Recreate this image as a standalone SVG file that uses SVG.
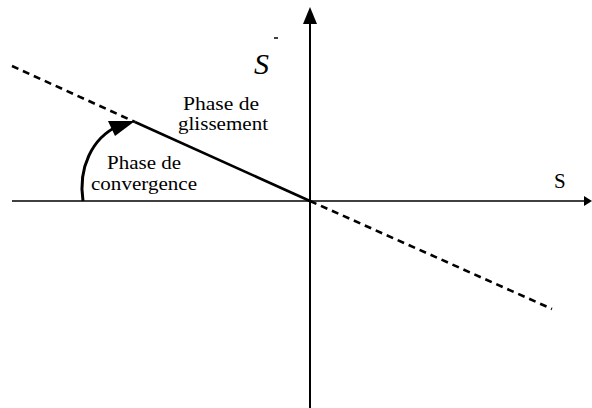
<svg xmlns="http://www.w3.org/2000/svg" width="592" height="408" viewBox="0 0 592 408">
<style>
.t{font-family:"Liberation Serif","Times New Roman",serif;fill:#000}
.l{font-size:18px}
.ax{stroke:#000;fill:none}
</style>
<rect width="592" height="408" fill="#fff"/>
<g id="connectors">
<line class="ax" x1="12" y1="201" x2="584" y2="201" stroke-width="1.3"/>
<polygon points="584,196 592,201 584,206" fill="#000"/>
<line class="ax" x1="310" y1="408" x2="310" y2="22" stroke-width="2"/>
<polygon points="303,24 310,7 317,24" fill="#000"/>
<line class="ax" x1="12" y1="66" x2="135" y2="122" stroke-width="2.6" stroke-dasharray="7,5"/>
<line class="ax" x1="135" y1="122" x2="310" y2="201" stroke-width="2.6"/>
<line class="ax" x1="310" y1="201" x2="552" y2="309" stroke-width="2.6" stroke-dasharray="7,5"/>
<path class="ax" d="M83,201 C78,168 92,138 118,126" stroke-width="3"/>
<polygon points="108,121 135,121 115,136" fill="#000"/>
</g>
<g id="labels">
<text class="t" x="554" y="188" font-size="21">S</text>
<text class="t" x="254" y="74" font-size="30" font-style="italic">S</text>
<line x1="274" y1="38" x2="278" y2="38" stroke="#000" stroke-width="1.5"/>
<text class="t l" x="183" y="110" textLength="76" lengthAdjust="spacingAndGlyphs">Phase de</text>
<text class="t l" x="178" y="130" textLength="90" lengthAdjust="spacingAndGlyphs">glissement</text>
<text class="t l" x="107" y="169" textLength="74" lengthAdjust="spacingAndGlyphs">Phase de</text>
<text class="t l" x="91" y="190" textLength="106" lengthAdjust="spacingAndGlyphs">convergence</text>
</g>
</svg>
